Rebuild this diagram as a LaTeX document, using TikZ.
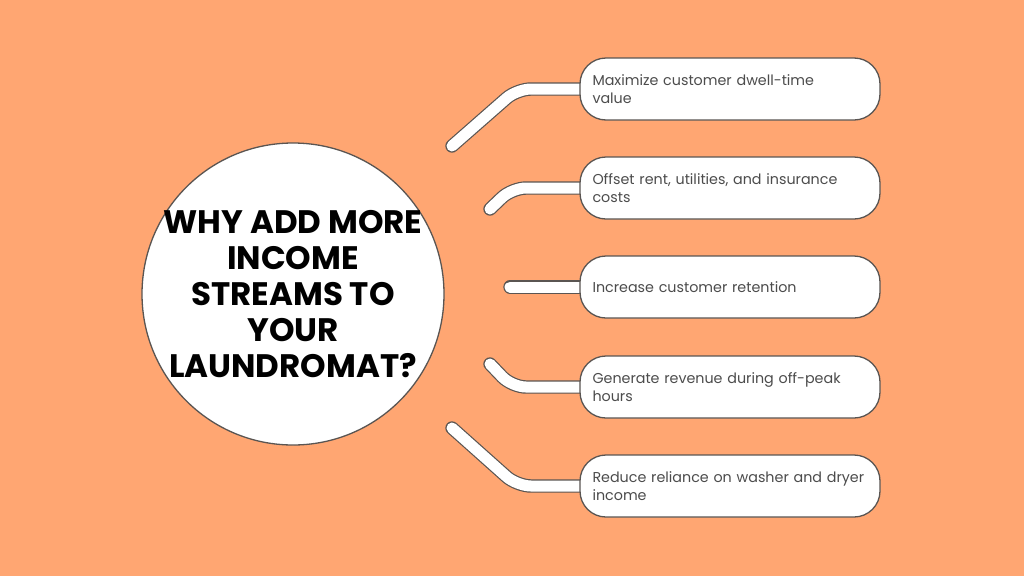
\documentclass[tikz,border=0pt]{standalone}
\usepackage{fontspec}
\setmainfont{Poppins}
\usetikzlibrary{positioning,backgrounds}
\definecolor{bgorange}{HTML}{FFA672}
\definecolor{edgegray}{HTML}{5A5552}
\tikzset{
  reason/.style={draw=edgegray, line width=1.3pt, fill=white, rounded corners=26pt,
    minimum width=300pt, minimum height=62pt, text width=275pt, inner xsep=12.5pt,
    align=left, font=\fontsize{14.3}{18.5}\selectfont, text=black!70},
  tube/.style={draw=edgegray, line width=1.2pt, double=white, double distance=11pt,
    line cap=round, rounded corners=14pt}
}
\begin{document}
\begin{tikzpicture}[x=1pt, y=-1pt]
\useasboundingbox (0,0) rectangle (1024,576);

% Centre question
\node[circle, draw=edgegray, line width=1.3pt, fill=white, minimum size=302pt] (why) at (293,294) {};
\node[align=center, font=\fontsize{32.5}{36}\selectfont\bfseries] (whytext) at (why)
  {WHY ADD MORE\\INCOME\\STREAMS TO\\YOUR\\LAUNDROMAT?};

% Reasons
\node[reason] (r1) at (730,89) {Maximize customer dwell-time\\value};
\node[reason] (r2) at (730,188) {Offset rent, utilities, and insurance\\costs};
\node[reason] (r3) at (730,287) {Increase customer retention};
\node[reason] (r4) at (730,387) {Generate revenue during off-peak\\hours};
\node[reason] (r5) at (730,486) {Reduce reliance on washer and dryer\\income};

% Tube ends
\coordinate (t1) at (452,146);
\coordinate (t2) at (490,209);
\coordinate (t3) at (510,287);
\coordinate (t4) at (490,364);
\coordinate (t5) at (452,428);

\begin{pgfonlayer}{background}
\fill[bgorange] (0,0) rectangle (1024,576);
\draw[tube] (t1) -- (517,89) -- ([xshift=2pt]r1.west);
\draw[tube] (t2) -- (512,188) -- ([xshift=2pt]r2.west);
\draw[tube] (t3) -- ([xshift=2pt]r3.west);
\draw[tube] (t4) -- (512,387) -- ([xshift=2pt]r4.west);
\draw[tube] (t5) -- (517,486) -- ([xshift=2pt]r5.west);
\end{pgfonlayer}
\end{tikzpicture}
\end{document}
